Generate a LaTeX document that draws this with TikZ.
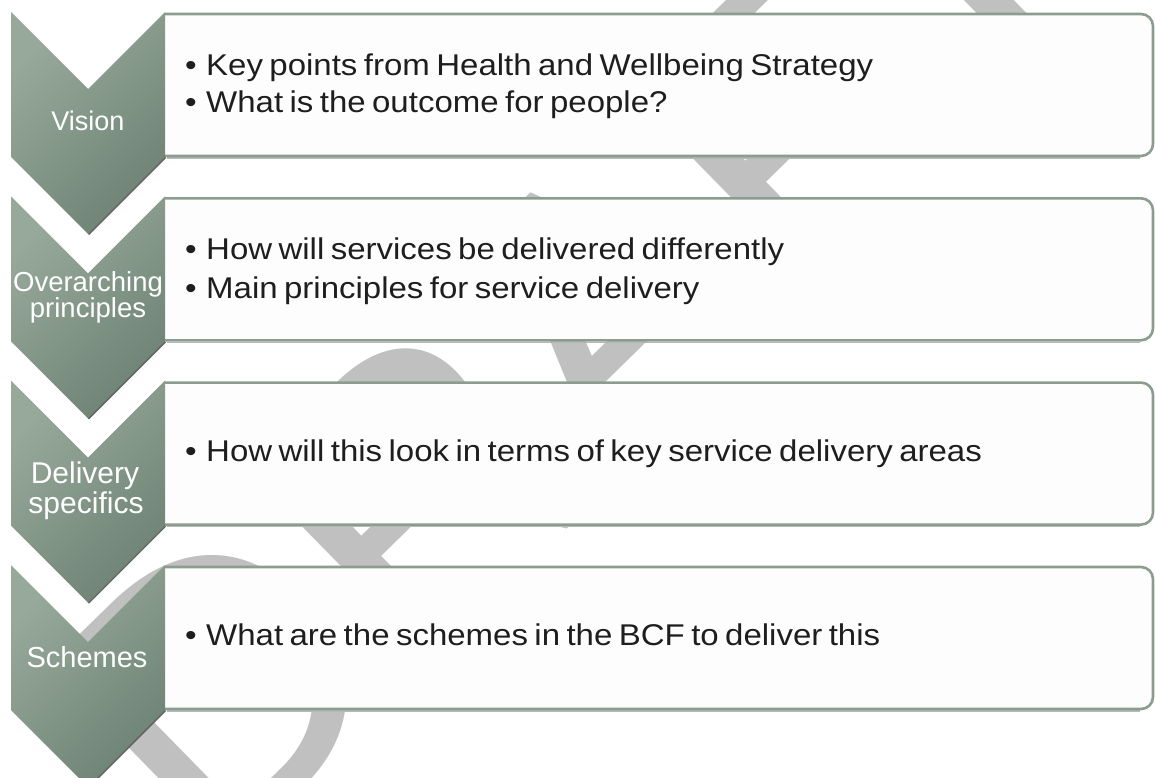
\documentclass[tikz,border=0pt]{standalone}
\usepackage{fontspec}
\setmainfont{Liberation Sans}
\newfontfamily\boxfont[FakeStretch=1.1,WordSpace=0.7]{Liberation Sans}
\definecolor{chevL}{HTML}{97A99B}
\definecolor{chevD}{HTML}{6E8375}
\definecolor{chevS}{HTML}{5C665F}
\definecolor{boxline}{HTML}{8C9D90}
\definecolor{boxshade}{HTML}{B4BBB6}
\definecolor{boxfill}{HTML}{FDFDFD}
\definecolor{wmgray}{HTML}{C0C0C0}
\definecolor{txt}{HTML}{1E1E1E}
\begin{document}
\begin{tikzpicture}[x=1pt,y=-1pt,
  wmtext/.style={inner sep=0pt,text=wmgray,font=\fontsize{386}{386}\selectfont},
  chevron/.style={top color=chevL,bottom color=chevD,shading angle=45},
  chevedge/.style={draw=chevS,line width=1.5pt},
  infobox/.style={fill=boxfill,draw=boxline,line width=2.6pt,rounded corners=12pt},
  boxshadow/.style={draw=boxshade,line width=1.5pt},
  chevtext/.style={text=white,inner sep=0pt,anchor=base,align=center},
  item/.style={inner sep=0pt,anchor=base west,text=txt,font=\boxfont\fontsize{30}{36}\selectfont},
]
\useasboundingbox (0,0) rectangle (1155,778);
\fill[white] (0,0) rectangle (1155,778);
% watermark
\node[wmtext,anchor=base west,rotate=44.4] (wm) at (211.6,877.2) {DRAFT};
% boxes
\foreach \b in {14,198.3,382.6,567}{
  \draw[boxshadow] (167,\b+144) -- (1140,\b+144);
  \path[infobox] (165,\b) -- (1153,\b) -- (1153,\b+142) -- (165,\b+142);
}
% chevrons
\foreach \t in {12,196.3,380.6,565}{
  \shade[chevron] (11,\t) -- (88,\t+77) -- (165,\t) -- (165,\t+145) -- (88,\t+222) -- (11,\t+145) -- cycle;
  \draw[chevedge] (165.5,\t+145.5) -- (88.5,\t+222.5);
}
% chevron labels
\node[chevtext,font=\fontsize{27}{27}\selectfont] (c1) at (88,131) {Vision};
\node[chevtext,font=\fontsize{27.5}{27}\selectfont] (c2a) at (88,291) {Overarching};
\node[chevtext,font=\fontsize{27.5}{27}\selectfont] (c2b) at (88,317) {principles};
\node[chevtext,font=\fontsize{30}{30}\selectfont] (c3a) at (85,483) {Delivery};
\node[chevtext,font=\fontsize{30}{30}\selectfont] (c3b) at (86,513) {specifics};
\node[chevtext,font=\fontsize{29}{29}\selectfont] (c4) at (87,667) {Schemes};
% box texts
\node[item] (t1a) at (185,76) {\makebox[21pt][l]{•}Key points from Health and Wellbeing Strategy};
\node[item] (t1b) at (185,113) {\makebox[21pt][l]{•}What is the outcome for people?};
\node[item] (t2a) at (185,259) {\makebox[21pt][l]{•}How will services be delivered differently};
\node[item] (t2b) at (185,298) {\makebox[21pt][l]{•}Main principles for service delivery};
\node[item] (t3) at (185,461) {\makebox[21pt][l]{•}How will this look in terms of key service delivery areas};
\node[item] (t4) at (185,645) {\makebox[21pt][l]{•}What are the schemes in the BCF to deliver this};
\end{tikzpicture}
\end{document}
